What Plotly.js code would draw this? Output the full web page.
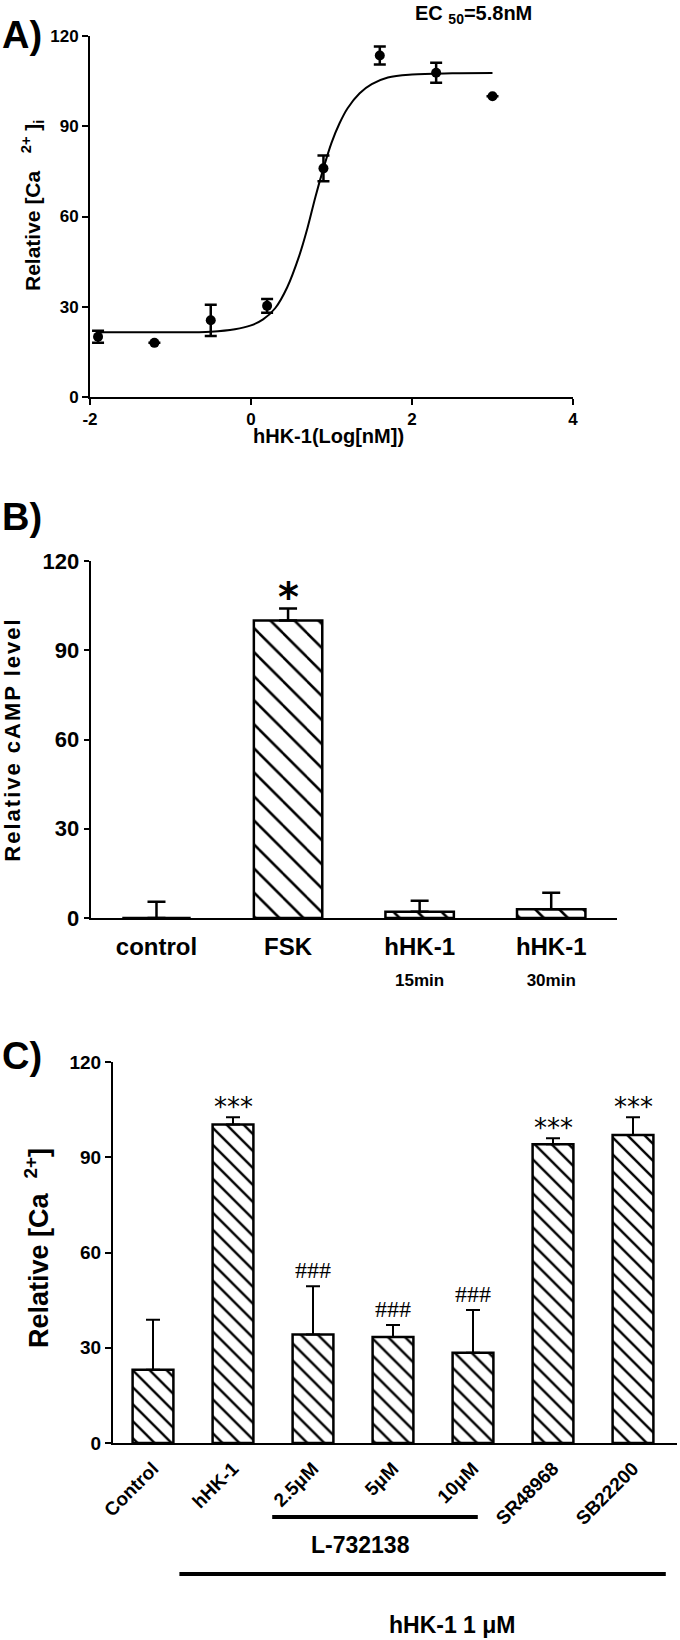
<!DOCTYPE html>
<html>
<head>
<meta charset="utf-8">
<script src="https://cdn.plot.ly/plotly-3.0.1.min.js"></script>
<style>
  body { margin: 0; background: #ffffff; }
  #chart { width: 680px; height: 1640px; }
  /* spaced-out lettering of the cAMP axis title */
  .y2title { letter-spacing: 2px; }
</style>
</head>
<body>
<div id="chart"></div>
<script>
// ---- Panel A: dose response (hHK-1) ----
const doseLog = [-1.9, -1.2, -0.5, 0.2, 0.9, 1.6, 2.3, 3.0];
const caResp = [20, 18, 25.5, 30.3, 76, 113.5, 107.8, 100];
const caErr = [2, 0, 5.2, 2.3, 4.3, 3, 3.3, 0];
// fitted curve
const fitX = [-1.9, -1.0, -0.5, -0.2, 0, 0.15, 0.3, 0.45, 0.6, 0.7, 0.8, 0.9, 1.0, 1.1, 1.2, 1.35, 1.5, 1.7, 2.0, 2.5, 3.0];
const fitY = [21.5, 21.5, 21.7, 22.5, 23.8, 25.8, 29.5, 36.5, 47, 56, 66.5, 76, 84.5, 91, 96, 101, 104, 106.2, 107.2, 107.6, 107.7];
const doseTicks = [-2, 0, 2, 4];
const doseTickText = ['-2', '0', '2', '4'];

// ---- Panel B: cAMP ----
const campCats = ['control', 'FSK', 'hHK-1 15min', 'hHK-1 30min'];
const campTicks = ['control', 'FSK', 'hHK-1<br><span style="font-size:17px">15min</span>', 'hHK-1<br><span style="font-size:17px">30min</span>'];
const campVals = [0, 100, 2.1, 2.9];
const campErr = [5.5, 4, 3.7, 5.6];
const campSig = ['', '*', '', ''];

// ---- Panel C: Ca2+ with antagonists ----
const antCats = ['Control', 'hHK-1', '2.5μM', '5μM', '10μM', 'SR48968', 'SB22200'];
const antVals = [23.1, 100.3, 34.2, 33.4, 28.4, 94.1, 97.0];
const antErr = [15.7, 2.3, 15.2, 3.8, 13.5, 1.9, 5.6];
const antSig = ['', '***', '###', '###', '###', '***', '***'];

const yTicks = [0, 30, 60, 90, 120];

// pixel -> paper helpers
const px = v => v / 680;
const py = v => 1 - v / 1640;

const FONT = 'Liberation Sans, Arial, Helvetica, sans-serif';
const bold = (size) => ({ family: FONT, size: size, color: '#000', weight: 700 });

const axBase = {
    showline: true,
    linecolor: '#000',
    linewidth: 2,
    ticks: 'outside',
    tickcolor: '#000',
    tickwidth: 2,
    ticklen: 6,
    showgrid: false,
    zeroline: false,
    fixedrange: true
};

const hatch = (size, solidity) => ({
    color: '#fff',
    line: { color: '#000', width: 2.5 },
    pattern: { shape: '\\', fgcolor: '#000', bgcolor: '#fff', size: size, solidity: solidity }
});

const traces = [
    {
        type: 'scatter', mode: 'lines',
        x: fitX, y: fitY,
        line: { color: '#000', width: 2, shape: 'spline' },
        xaxis: 'x', yaxis: 'y', hoverinfo: 'skip'
    },
    {
        type: 'scatter', mode: 'markers',
        x: doseLog, y: caResp,
        marker: { color: '#000', size: 10 },
        error_y: { type: 'data', array: caErr, color: '#000', thickness: 2.5, width: 6 },
        xaxis: 'x', yaxis: 'y'
    },
    {
        type: 'bar',
        x: campCats, y: campVals,
        width: 0.52,
        marker: hatch(17, 0.15),
        error_y: { type: 'data', symmetric: false, array: campErr, arrayminus: campErr.map(() => 0), color: '#000', thickness: 2.5, width: 9 },
        xaxis: 'x2', yaxis: 'y2'
    },
    {
        type: 'bar',
        x: antCats, y: antVals,
        width: 0.51,
        marker: hatch(12, 0.2),
        error_y: { type: 'data', symmetric: false, array: antErr, arrayminus: antErr.map(() => 0), color: '#000', thickness: 2, width: 7 },
        xaxis: 'x3', yaxis: 'y3'
    }
];

// free text placed on the page (centred on the given point)
const label = (text, x, y, size, extra) => Object.assign({
    text: text, xref: 'paper', yref: 'paper', x: px(x), y: py(y),
    xanchor: 'center', yanchor: 'middle', showarrow: false, font: bold(size)
}, extra || {});

const annotations = [
    label('A)', 22, 35, 38),
    label('B)', 22, 517, 38),
    label('C)', 22, 1056, 38),
    label('EC <sub>50</sub>=5.8nM', 473, 14, 20),
    label('Relative [Ca   <sup>2+</sup> ]<sub>i</sub>', 32, 206, 21, { textangle: -90 }),
    label('hHK-1(Log[nM])', 328, 436, 20),
    label('Relative [Ca  <sup>2+</sup>]', 37, 1248, 27, { textangle: -90 }),
    label('L-732138', 360, 1545, 23),
    label('hHK-1 1 μM', 452, 1625, 23)
];

campSig.forEach((s, i) => {
    if (!s) return;
    annotations.push({
        text: s, xref: 'x2', yref: 'y2', x: campCats[i], y: campVals[i] + campErr[i],
        xanchor: 'center', yanchor: 'middle', yshift: 12, showarrow: false,
        font: { family: 'DejaVu Sans', size: 40, color: '#000', weight: 700 }
    });
});

antSig.forEach((s, i) => {
    if (!s) return;
    const star = s.startsWith('*');
    annotations.push({
        text: s, xref: 'x3', yref: 'y3', x: antCats[i], y: antVals[i] + antErr[i],
        xanchor: 'center', yanchor: 'middle', yshift: star ? 10 : 16, showarrow: false,
        font: star ? { family: 'DejaVu Sans', size: 26, color: '#000' }
                   : { family: 'Liberation Serif, Times New Roman, serif', size: 24, color: '#000' }
    });
});

const layout = {
    width: 680,
    height: 1640,
    margin: { l: 0, r: 0, t: 0, b: 0 },
    paper_bgcolor: '#fff',
    plot_bgcolor: '#fff',
    showlegend: false,
    font: { family: FONT, color: '#000' },
    xaxis: Object.assign({}, axBase, {
        anchor: 'y', domain: [px(90), px(573)], range: [-2, 4],
        tickvals: doseTicks, ticktext: doseTickText, tickfont: bold(17)
    }),
    yaxis: Object.assign({}, axBase, {
        anchor: 'x', domain: [py(397), py(36)], range: [0, 120],
        tickvals: yTicks, tickfont: bold(17)
    }),
    xaxis2: Object.assign({}, axBase, {
        anchor: 'y2', domain: [px(90.7), px(617)], type: 'category', range: [-0.5, 3.5],
        ticks: '', tickvals: campCats, ticktext: campTicks, tickfont: bold(24), ticklabelstandoff: 6
    }),
    yaxis2: Object.assign({}, axBase, {
        anchor: 'x2', domain: [py(918), py(561)], range: [0, 120],
        tickvals: yTicks, tickfont: bold(22), ticklen: 5,
        title: { text: 'Relative cAMP level', font: bold(22), standoff: 20 }
    }),
    xaxis3: Object.assign({}, axBase, {
        anchor: 'y3', domain: [px(113), px(677)], type: 'category', range: [-0.5, 6.55],
        ticks: '', tickangle: -45, tickfont: bold(19), ticklabelstandoff: 5
    }),
    yaxis3: Object.assign({}, axBase, {
        anchor: 'x3', domain: [py(1443), py(1062)], range: [0, 120],
        tickvals: yTicks, tickfont: bold(19)
    }),
    shapes: [
        { type: 'line', xref: 'x3', yref: 'paper', x0: 1.49, x1: 4.06, y0: py(1517), y1: py(1517), line: { color: '#000', width: 4 } },
        { type: 'line', xref: 'x3', yref: 'paper', x0: 0.33, x1: 6.41, y0: py(1574), y1: py(1574), line: { color: '#000', width: 4 } }
    ],
    annotations: annotations
};

Plotly.newPlot('chart', traces, layout, { displayModeBar: false, staticPlot: true });
</script>
</body>
</html>
